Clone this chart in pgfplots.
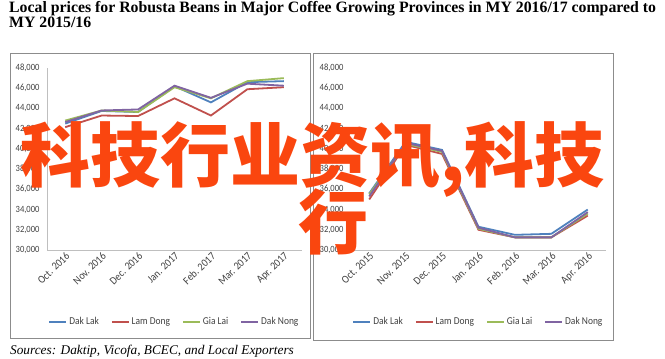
\documentclass[border=0pt]{standalone}
\usepackage{fontspec}
\usepackage{pgfplots}
\usepackage{pgfplotstable}
\pgfplotsset{compat=1.18}
\setmainfont{Liberation Serif}
\newfontfamily\calfont[FakeStretch=0.9]{Carlito}
\newfontfamily\cjk{Noto Sans CJK SC}
\definecolor{daklak}{HTML}{4F81BD}
\definecolor{lamdong}{HTML}{C0504D}
\definecolor{gialai}{HTML}{9BBB59}
\definecolor{daknong}{HTML}{8064A2}
\definecolor{wm}{RGB}{250,70,15}
\definecolor{axgray}{HTML}{BFBFBF}
\definecolor{boxgray}{HTML}{8C8C8C}
\definecolor{txtgray}{HTML}{404040}

\pgfplotstableread{
x DakLak LamDong GiaLai DakNong
0 42500 42150 42800 42650
1 43750 43300 43800 43800
2 43650 43250 43650 43900
3 46200 45000 46100 46250
4 44600 43300 45000 45050
5 46600 45900 46700 46450
6 46700 46100 47000 46250
}\lefttab

\pgfplotstableread{
x DakLak LamDong GiaLai DakNong
0 35600 35000 35500 35300
1 40700 40400 40500 40600
2 39900 39500 39700 39800
3 32300 32000 32100 32200
4 31500 31250 31250 31250
5 31600 31250 31250 31250
6 34000 33400 33600 33750
}\righttab

\pgfplotsset{
  panel/.style={
    scale only axis, width=255pt, height=182pt,
    xmin=-0.5, xmax=6.5, ymin=30000, ymax=48000,
    ytick={30000,32000,...,48000},
    xtick={0,...,6},
    scaled y ticks=false,
    /pgf/number format/1000 sep={,},
    /pgf/number format/assume math mode=true,
    axis x line*=bottom, axis y line*=left,
    axis line style={axgray, line width=0.6pt, -},
    major tick length=0pt,
    tick style={draw=none},
    yticklabel style={font=\calfont\fontsize{9.5}{9.5}\selectfont, text=txtgray, xshift=-4pt},
    xticklabel style={font=\calfont\fontsize{11}{11}\selectfont, text=txtgray, rotate=44, anchor=north east, inner sep=1pt},
    legend columns=4,
    legend style={draw=none, fill=none, at={(0.5,0)}, anchor=center, yshift=-72pt,
      font=\calfont\fontsize{10.5}{10.5}\selectfont, text=txtgray, inner sep=1pt,
      /tikz/every even column/.append style={column sep=10pt}},
    legend image code/.code={\draw[#1] (0pt,0pt) -- (17pt,0pt);},
    every axis plot/.append style={line width=1.8pt, mark=none},
    clip=false,
  }
}

\begin{document}
\begin{tikzpicture}
\path[use as bounding box] (0pt,0pt) rectangle (665pt,-359pt);
\draw[boxgray, line width=0.6pt] (10pt,-53pt) rectangle (310pt,-338pt);
\draw[boxgray, line width=0.6pt] (313pt,-53pt) rectangle (613pt,-340pt);

\begin{axis}[panel, at={(47pt,-250pt)}, anchor=south west,
  xticklabels={Oct. 2016, Nov. 2016, Dec. 2016, Jan. 2017, Feb. 2017, Mar. 2017, Apr. 2017}]
\addplot[daklak] table[x=x, y=DakLak] {\lefttab};
\addlegendentry{Dak Lak}
\addplot[lamdong] table[x=x, y=LamDong] {\lefttab};
\addlegendentry{Lam Dong}
\addplot[gialai] table[x=x, y=GiaLai] {\lefttab};
\addlegendentry{Gia Lai}
\addplot[daknong] table[x=x, y=DakNong] {\lefttab};
\addlegendentry{Dak Nong}
\end{axis}

\begin{axis}[panel, at={(351pt,-250pt)}, anchor=south west,
  y axis line style={draw=none},
  xticklabels={Oct. 2015, Nov. 2015, Dec. 2015, Jan. 2016, Feb. 2016, Mar. 2016, Apr. 2016}]
\addplot[daklak] table[x=x, y=DakLak] {\righttab};
\addlegendentry{Dak Lak}
\addplot[lamdong] table[x=x, y=LamDong] {\righttab};
\addlegendentry{Lam Dong}
\addplot[gialai] table[x=x, y=GiaLai] {\righttab};
\addlegendentry{Gia Lai}
\addplot[daknong] table[x=x, y=DakNong] {\righttab};
\addlegendentry{Dak Nong}
\end{axis}

\node[anchor=north west, inner sep=0, align=left, font=\bfseries\fontsize{15.8}{15}\selectfont] at (9pt,-1pt)
  {Local prices for Robusta Beans in Major Coffee Growing Provinces in MY 2016/17 compared to\\MY 2015/16};
\node[anchor=base west, inner sep=0, font=\itshape\fontsize{13.3}{13.3}\selectfont] at (10pt,-354pt)
  {Sources: Daktip, Vicofa, BCEC, and Local Exporters};

\node[anchor=base west, inner sep=0, text=wm, font=\cjk\bfseries\fontsize{70}{70}\selectfont] at (20pt,-181pt) {科技行业资讯,科技};
\node[anchor=base west, inner sep=0, text=wm, font=\cjk\bfseries\fontsize{70}{70}\selectfont] at (298pt,-248pt) {行};
\end{tikzpicture}
\end{document}
